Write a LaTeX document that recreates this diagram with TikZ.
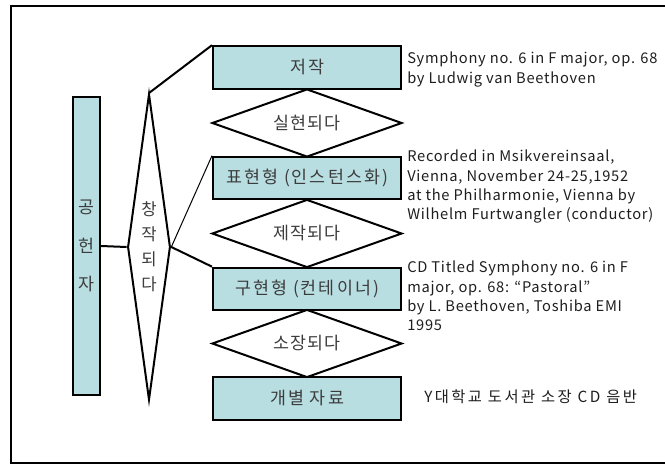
\documentclass[tikz,border=0pt]{standalone}
\usepackage{fontspec}
\setmainfont{Noto Sans CJK KR}
\usetikzlibrary{shapes.geometric}
\definecolor{boxfill}{RGB}{184,222,226}
\definecolor{boxtxt}{RGB}{60,60,60}
\definecolor{sidetxt}{RGB}{30,30,30}
\begin{document}
\begin{tikzpicture}[x=0.75pt,y=-0.75pt,
  entity/.style={draw=black, line width=1.5pt, fill=boxfill, rectangle,
    minimum width=141pt, minimum height=32pt, inner sep=0pt,
    font=\fontsize{13pt}{15pt}\selectfont\addfontfeature{LetterSpace=12}, text=boxtxt},
  relation/.style={draw=black, line width=1.5pt, fill=white, diamond,
    shape aspect=2.8, minimum width=142.5pt, minimum height=51pt, inner sep=0pt,
    font=\fontsize{13pt}{15pt}\selectfont\addfontfeature{LetterSpace=6}, text=boxtxt},
  sidenote/.style={inner sep=0pt, align=left, text=sidetxt,
    font=\fontsize{11pt}{14.5pt}\selectfont\addfontfeature{LetterSpace=5}},
  link/.style={draw=black, line width=1.5pt},
  thinlink/.style={draw=black, line width=0.75pt}]
\clip (0,0) rectangle (665,465);
\useasboundingbox (0,0) rectangle (665,465);
% frame
\draw[line width=1.5pt] (11,6) -- (720,6) -- (720,463) -- (11,463) -- cycle;

% contributor
\node[draw=black, line width=1.5pt, fill=boxfill, rectangle, minimum width=20.25pt,
  minimum height=223.5pt, inner sep=0pt, align=center, text=boxtxt,
  font=\fontsize{13pt}{29pt}\selectfont] (gong) at (86.5,246) {공\\헌\\자};

% creates diamond
\node[draw=black, line width=1.5pt, fill=white, diamond, shape aspect=0.14,
  minimum width=32pt, minimum height=229.5pt, inner sep=0pt, align=center,
  text=boxtxt, font=\fontsize{12.5pt}{18.75pt}\selectfont] (chang) at (149,247) {창\\작\\되\\다};

% entities
\node[entity] (work) at (307,67.5) {저작};
\node[entity] (expr) at (307,178) {표현형 (인스턴스화)};
\node[entity] (manif) at (307,289) {구현형 (컨테이너)};
\node[entity] (item) at (307,398.5) {개별 자료};

% relations
\node[relation] (r1) at (307,123) {실현되다};
\node[relation] (r2) at (307,233.5) {제작되다};
\node[relation] (r3) at (307,343.5) {소장되다};

% connectors
\draw[link] (gong.east) -- (chang.west);
\draw[link] (chang.north) -- (work.north west);
\draw[thinlink] (chang.east) -- (expr.north west);
\draw[link] (chang.east) -- (manif.north west);

% side notes
\node[sidenote, anchor=north west] (n1) at (407,52)
  {Symphony no. 6 in F major, op. 68\\by Ludwig van Beethoven};
\node[sidenote, anchor=north west] (n2) at (407,150)
  {Recorded in Msikvereinsaal,\\Vienna, November 24-25,1952\\at the Philharmonie, Vienna by\\Wilhelm Furtwangler (conductor)};
\node[sidenote, anchor=north west] (n3) at (407,261)
  {CD Titled Symphony no. 6 in F\\major, op. 68: ``Pastoral''\\by L. Beethoven, Toshiba EMI\\1995};
\node[sidenote, anchor=west, font=\fontsize{11.5pt}{14.5pt}\selectfont\addfontfeature{LetterSpace=16}] (n4) at (424,397) {Y대학교 도서관 소장 CD 음반};
\end{tikzpicture}
\end{document}
